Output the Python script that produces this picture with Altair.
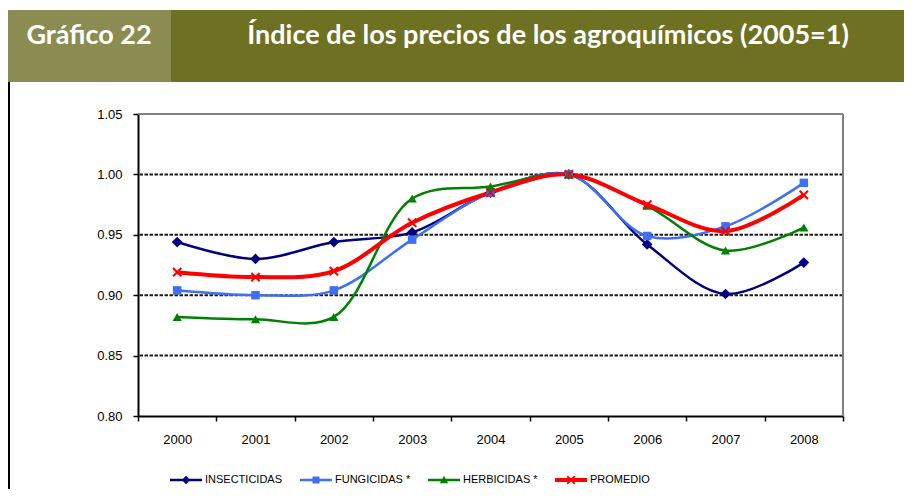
import altair as alt
import pandas as pd

years = ["2000", "2001", "2002", "2003", "2004", "2005", "2006", "2007", "2008"]
series = ["INSECTICIDAS", "FUNGICIDAS *", "HERBICIDAS *", "PROMEDIO"]
insecticidas = [0.944, 0.930, 0.944, 0.952, 0.985, 1.000, 0.942, 0.901, 0.927]
fungicidas = [0.904, 0.900, 0.904, 0.946, 0.985, 1.000, 0.949, 0.957, 0.993]
herbicidas = [0.882, 0.880, 0.882, 0.980, 0.990, 1.000, 0.974, 0.937, 0.956]
promedio = [0.919, 0.915, 0.920, 0.960, 0.985, 1.000, 0.975, 0.953, 0.983]
y_ticks = [0.80, 0.85, 0.90, 0.95, 1.00, 1.05]
grid_values = [0.85, 0.90, 0.95, 1.00]
colors = ["#000080", "#3F6FF7", "#008000", "#FF0000"]

title_left = "Gráfico 22"
title_main = "Índice de los precios de los agroquímicos (2005=1)"

W, H = 705, 302
PAD_RIGHT = 61
FONT = "Liberation Sans"

rows = []
for name, vals in zip(series, [insecticidas, fungicidas, herbicidas, promedio]):
    for yr, v in zip(years, vals):
        rows.append({"year": yr, "series": name, "value": v})
df = pd.DataFrame(rows)

X_PATH = "M-1,-0.7L-0.7,-1L0,-0.3L0.7,-1L1,-0.7L0.3,0L1,0.7L0.7,1L0,0.3L-0.7,1L-1,0.7L-0.3,0Z"
marker_paths = ["diamond", "square", "triangle-up", X_PATH]
marker_sizes = [115, 72, 85, 95]
line_widths = [2.5, 2.5, 2.5, 4]


def line_path(h):
    return f"M-1,-{h}H1V{h}H-1Z"


legend_paths = [
    line_path(0.08) + "M0,-0.26L0.26,0L0,0.26L-0.26,0Z",
    line_path(0.08) + "M-0.22,-0.22H0.22V0.22H-0.22Z",
    line_path(0.08) + "M0,-0.26L0.26,0.2L-0.26,0.2Z",
    line_path(0.12) + "M-0.28,-0.2L-0.2,-0.28L0,-0.08L0.2,-0.28L0.28,-0.2L0.08,0L0.28,0.2L0.2,0.28L0,0.08L-0.2,0.28L-0.28,0.2L-0.08,0Z",
]

x_enc = alt.X(
    "year:O",
    sort=years,
    scale=alt.Scale(type="band", domain=years, paddingInner=0, paddingOuter=0),
    axis=alt.Axis(
        title=None, tickBand="extent", labelAngle=0, labelFont=FONT, labelFontSize=13,
        labelColor="#000000", labelPadding=12, tickSize=5, tickColor="#000000",
        tickWidth=1.5, domainColor="#000000", domainWidth=2, grid=False,
    ),
)
y_enc = alt.Y(
    "value:Q",
    scale=alt.Scale(domain=[0.80, 1.05], nice=False, zero=False),
    axis=alt.Axis(
        title=None, values=y_ticks, format=".2f", labelFont=FONT, labelFontSize=13,
        labelColor="#000000", labelPadding=11, tickSize=5, tickColor="#000000",
        tickWidth=1.5, domainColor="#000000", domainWidth=2, grid=False,
    ),
)

blank = alt.Data(values=[{}])

grid = alt.Chart(pd.DataFrame({"g": grid_values})).mark_rule(
    color="#1a1a1a", strokeWidth=2, strokeDash=[3.5, 1.5]
).encode(y=alt.Y("g:Q"))

top_border = alt.Chart(blank).mark_rule(color="#808080", strokeWidth=2).encode(
    y=alt.datum(1.05)
)
right_border = alt.Chart(blank).mark_rule(color="#808080", strokeWidth=2).encode(
    x=alt.value(W)
)

line_layers = []
point_layers = []
for name, col, shp, sz, lw in zip(series, colors, marker_paths, marker_sizes, line_widths):
    sub = alt.Chart(df).transform_filter(alt.datum.series == name)
    line_layers.append(
        sub.mark_line(interpolate="catmull-rom", strokeWidth=lw, color=col).encode(x=x_enc, y=y_enc)
    )
    point_layers.append(
        sub.mark_point(filled=True, opacity=1, strokeWidth=0, shape=shp, size=sz, color=col)
        .encode(x=x_enc, y=y_enc)
    )

legend_layer = alt.Chart(df).transform_filter(
    alt.datum.year == "2005"
).mark_point(filled=True, opacity=1, size=1024, clip=True, strokeWidth=0).encode(
    x=x_enc,
    y=alt.datum(0.5),
    color=alt.Color("series:N", scale=alt.Scale(domain=series, range=colors), title=None),
    shape=alt.Shape("series:N", scale=alt.Scale(domain=series, range=legend_paths), title=None),
)

hdr_left = alt.Chart(blank).mark_rect(color="#8B8C52").encode(
    x=alt.value(-130), x2=alt.value(33), y=alt.value(-104), y2=alt.value(-32)
)
hdr_right = alt.Chart(blank).mark_rect(color="#6E7022").encode(
    x=alt.value(33), x2=alt.value(W + PAD_RIGHT), y=alt.value(-104), y2=alt.value(-32)
)
hdr_text1 = alt.Chart(blank).mark_text(
    font="Lato", fontSize=27, fontWeight="bold", color="#FFFFFF", align="center", baseline="middle"
).encode(x=alt.value(-49), y=alt.value(-78), text=alt.value(title_left))
hdr_text2 = alt.Chart(blank).mark_text(
    font="Lato", fontSize=27, fontWeight="bold", color="#FFFFFF", align="center", baseline="middle"
).encode(x=alt.value(410), y=alt.value(-78), text=alt.value(title_main))
side_line = alt.Chart(blank).mark_rule(color="#000000", strokeWidth=2).encode(
    x=alt.value(-129), y=alt.value(-32), y2=alt.value(H + 73)
)

chart = alt.layer(
    hdr_left, hdr_right, hdr_text1, hdr_text2, side_line,
    grid, top_border, right_border,
    *line_layers, *point_layers, legend_layer,
).properties(
    width=W, height=H,
    padding={"left": 130, "top": 106, "right": PAD_RIGHT, "bottom": 73},
    autosize=alt.AutoSizeParams(type="none"),
).configure_view(stroke=None).configure_legend(
    orient="none", legendX=32, legendY=350, direction="horizontal",
    symbolSize=1024, labelFont=FONT, labelFontSize=11, labelColor="#000000",
    labelOffset=3, columnPadding=17, padding=0, symbolStrokeWidth=0,
    titlePadding=0,
)

chart.save("out.html", embed_options={"renderer": "svg", "actions": False})
